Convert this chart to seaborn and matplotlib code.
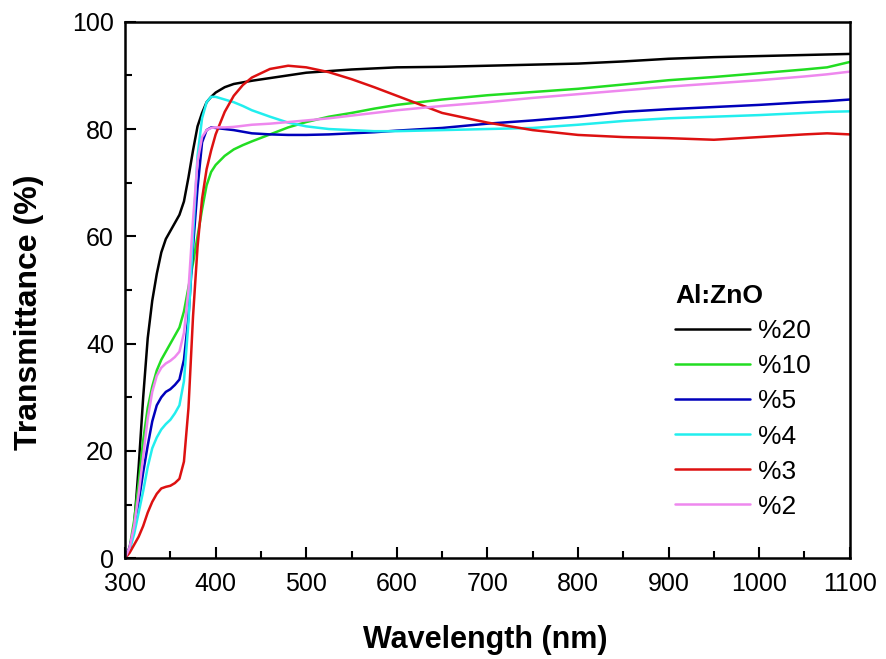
import numpy as np
import pandas as pd
import matplotlib
matplotlib.use('Agg')
import matplotlib.pyplot as plt
import seaborn as sns
from matplotlib.ticker import MultipleLocator

# Wavelength grid (nm) and transmittance (%)
wavelength = [300, 305, 310, 315, 320, 325, 330, 335, 340, 345, 350, 355, 360, 365,
              370, 375, 380, 385, 390, 395, 400, 410, 420, 430, 440, 460, 480, 500,
              525, 550, 575, 600, 650, 700, 750, 800, 850, 900, 950, 1000, 1050,
              1075, 1100]

t20 = [0, 1.5, 6, 17, 30, 41, 48, 53, 57, 59.5, 61, 62.5, 64, 66.5,
       71, 76, 80.5, 83, 85, 86, 86.8, 87.8, 88.4, 88.7, 89, 89.5, 90, 90.5,
       90.8, 91.1, 91.3, 91.5, 91.6, 91.8, 92, 92.2, 92.6, 93.1, 93.4, 93.6, 93.8,
       93.9, 94]
t10 = [0, 2, 7, 14, 22, 28, 32, 35, 37, 38.5, 40, 41.5, 43, 46,
       50.5, 55, 60, 65, 69.5, 72, 73.3, 75, 76.2, 77, 77.7, 79, 80.3, 81.3,
       82.3, 83, 83.8, 84.5, 85.5, 86.3, 86.9, 87.5, 88.3, 89.1, 89.7, 90.4, 91.1,
       91.5, 92.5]
t5 = [0, 2, 5.5, 10.5, 16, 21, 25.5, 28.5, 30, 31, 31.5, 32.3, 33.3, 37,
      45, 58, 69, 77.5, 79.8, 80.3, 80.2, 80, 79.8, 79.5, 79.2, 79, 78.9, 78.9,
      79, 79.2, 79.4, 79.7, 80.2, 81, 81.6, 82.3, 83.2, 83.7, 84.1, 84.5, 85,
      85.2, 85.5]
t4 = [0, 1.5, 4.5, 8.5, 12.5, 17, 20.5, 22.5, 24, 25, 25.8, 27, 28.5, 33,
      44, 60, 75, 82, 85, 86, 86, 85.5, 85, 84.3, 83.5, 82.3, 81.2, 80.5,
      80, 79.8, 79.6, 79.6, 79.8, 80, 80.2, 80.8, 81.5, 82, 82.3, 82.6, 83,
      83.2, 83.3]
t3 = [0, 1, 2.5, 4, 6, 8.5, 10.5, 12, 13, 13.3, 13.5, 14, 14.8, 18,
      28, 45, 58, 67, 72.5, 76, 79, 83.2, 86.2, 88.2, 89.6, 91.2, 91.8, 91.5,
      90.6, 89.3, 87.8, 86.2, 83, 81.2, 79.8, 78.9, 78.5, 78.3, 78, 78.5, 79,
      79.2, 79]
t2 = [0, 2, 6, 12, 19, 26, 31, 34, 35.5, 36.3, 36.8, 37.5, 38.5, 42,
      50, 63, 74, 78.5, 79.8, 80.2, 80.3, 80.3, 80.4, 80.6, 80.8, 81, 81.3, 81.6,
      82, 82.5, 83, 83.5, 84.3, 85, 85.8, 86.5, 87.2, 87.9, 88.5, 89.1, 89.8,
      90.2, 90.7]

labels = ['%20', '%10', '%5', '%4', '%3', '%2']
series = [t20, t10, t5, t4, t3, t2]
colors = ['#000000', '#22dd22', '#0000bb', '#22eeee', '#dd1111', '#ee88ee']

df = pd.concat([pd.DataFrame({'Wavelength': wavelength, 'T': s, 'Sample': lab})
                for s, lab in zip(series, labels)], ignore_index=True)

sns.set_style('ticks')
plt.rcParams['font.family'] = ['Liberation Sans', 'DejaVu Sans']
plt.rcParams.update({'text.color': 'black', 'axes.labelcolor': 'black',
                     'xtick.color': 'black', 'ytick.color': 'black'})

fig = plt.figure(figsize=(8.87, 6.59), dpi=100)
ax = fig.add_axes([0.141, 0.153, 0.817, 0.814])

sns.lineplot(data=df, x='Wavelength', y='T', hue='Sample', hue_order=labels,
             palette=dict(zip(labels, colors)), linewidth=1.8, ax=ax)

ax.set_xlim(300, 1100)
ax.set_ylim(0, 100)
ax.xaxis.set_major_locator(MultipleLocator(100))
ax.xaxis.set_minor_locator(MultipleLocator(50))
ax.yaxis.set_major_locator(MultipleLocator(20))
ax.yaxis.set_minor_locator(MultipleLocator(10))
ax.tick_params(which='both', direction='in', top=False, right=False,
               labelsize=18, width=1.5)
ax.tick_params(axis='x', pad=10)
ax.tick_params(axis='y', pad=8)
ax.tick_params(which='major', length=8)
ax.tick_params(which='minor', length=5)
for sp in ax.spines.values():
    sp.set_linewidth(1.8)
    sp.set_color('black')

ax.set_xlabel('Wavelength (nm)', fontsize=22, fontweight='bold')
ax.set_ylabel('Transmittance (%)', fontsize=23, fontweight='bold')
ax.xaxis.set_label_coords(0.497, -0.125)
ax.yaxis.set_label_coords(-0.112, 0.459)

handles, labs = ax.get_legend_handles_labels()
leg = ax.legend(handles, labs, title='Al:ZnO', frameon=False, loc='upper left',
                bbox_to_anchor=(0.726, 0.555), fontsize=19, handlelength=2.85,
                handletextpad=0.3, labelspacing=0.42, alignment='left')
leg.get_title().set_fontweight('bold')
leg.get_title().set_fontsize(19)

fig.savefig('out.png', dpi=100)
